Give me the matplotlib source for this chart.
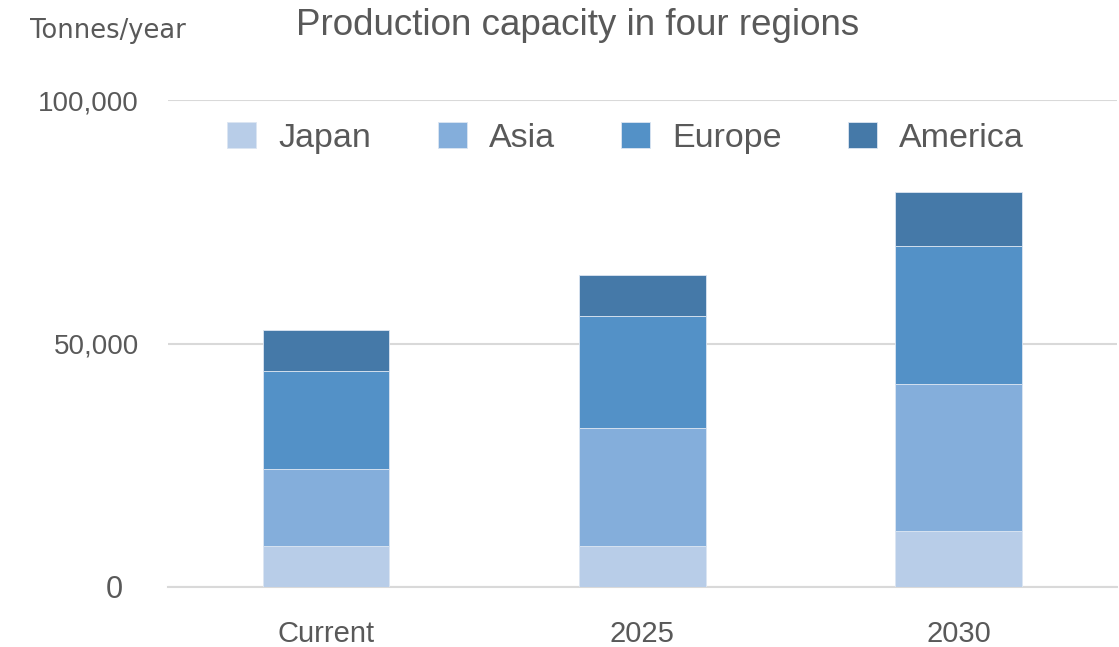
import matplotlib.pyplot as plt
import numpy as np

# data (tonnes/year)
categories = ['Current', '2025', '2030']
japan = [8400, 8400, 11500]
asia = [15800, 24200, 30200]
europe = [20200, 23000, 28300]
america = [8400, 8500, 11100]

series = [('Japan', japan, '#B8CDE8'),
          ('Asia', asia, '#84AEDB'),
          ('Europe', europe, '#5391C7'),
          ('America', america, '#4579A8')]

plt.rcParams['font.family'] = ['Liberation Sans', 'DejaVu Sans']
grey = '#595959'

fig = plt.figure(figsize=(11.19, 6.47), dpi=100)
ax = fig.add_axes([0.150, 0.0927, 0.848, 0.7527])

x = np.arange(len(categories))
bottom = np.zeros(len(categories))
for name, vals, col in series:
    ax.bar(x, vals, width=0.40, bottom=bottom, color=col, label=name,
           edgecolor='#DCE6F2', linewidth=0.6, zorder=3)
    bottom += np.array(vals)

ax.set_xlim(-0.5, 2.5)
ax.set_ylim(0, 100000)
ax.set_yticks([0, 50000, 100000])
# the zero label sits a bit further left (and larger) in the original
ax.set_yticklabels(['', '50,000', '100,000'], fontsize=20, color=grey)
ax.text(-0.0474, -600, '0', transform=ax.get_yaxis_transform(), ha='right',
        va='center', fontsize=22, color=grey)
ax.set_xticks(x)
ax.set_xticklabels(categories, fontsize=21, color=grey)
ax.tick_params(length=0)
ax.tick_params(axis='y', pad=21)
ax.tick_params(axis='x', pad=24)
ax.grid(axis='y', color='#D9D9D9', linewidth=1.5, zorder=0)
for s in ['left', 'right', 'top']:
    ax.spines[s].set_visible(False)
ax.spines['bottom'].set_color('#D9D9D9')
ax.spines['bottom'].set_linewidth(1.5)

fig.text(0.5165, 0.96, 'Production capacity in four regions', fontsize=26.5,
         color=grey, ha='center', va='center')
fig.text(0.027, 0.952, 'Tonnes/year', fontsize=18.5, color=grey,
         ha='left', va='center', family=['DejaVu Sans'])

ax.legend(loc='center', bbox_to_anchor=(0.4826, 0.922), ncol=4, frameon=False,
          fontsize=24.5, labelcolor=grey, handlelength=0.85, handleheight=0.8,
          handletextpad=0.65, columnspacing=1.95)

fig.savefig('out.png', dpi=100)
